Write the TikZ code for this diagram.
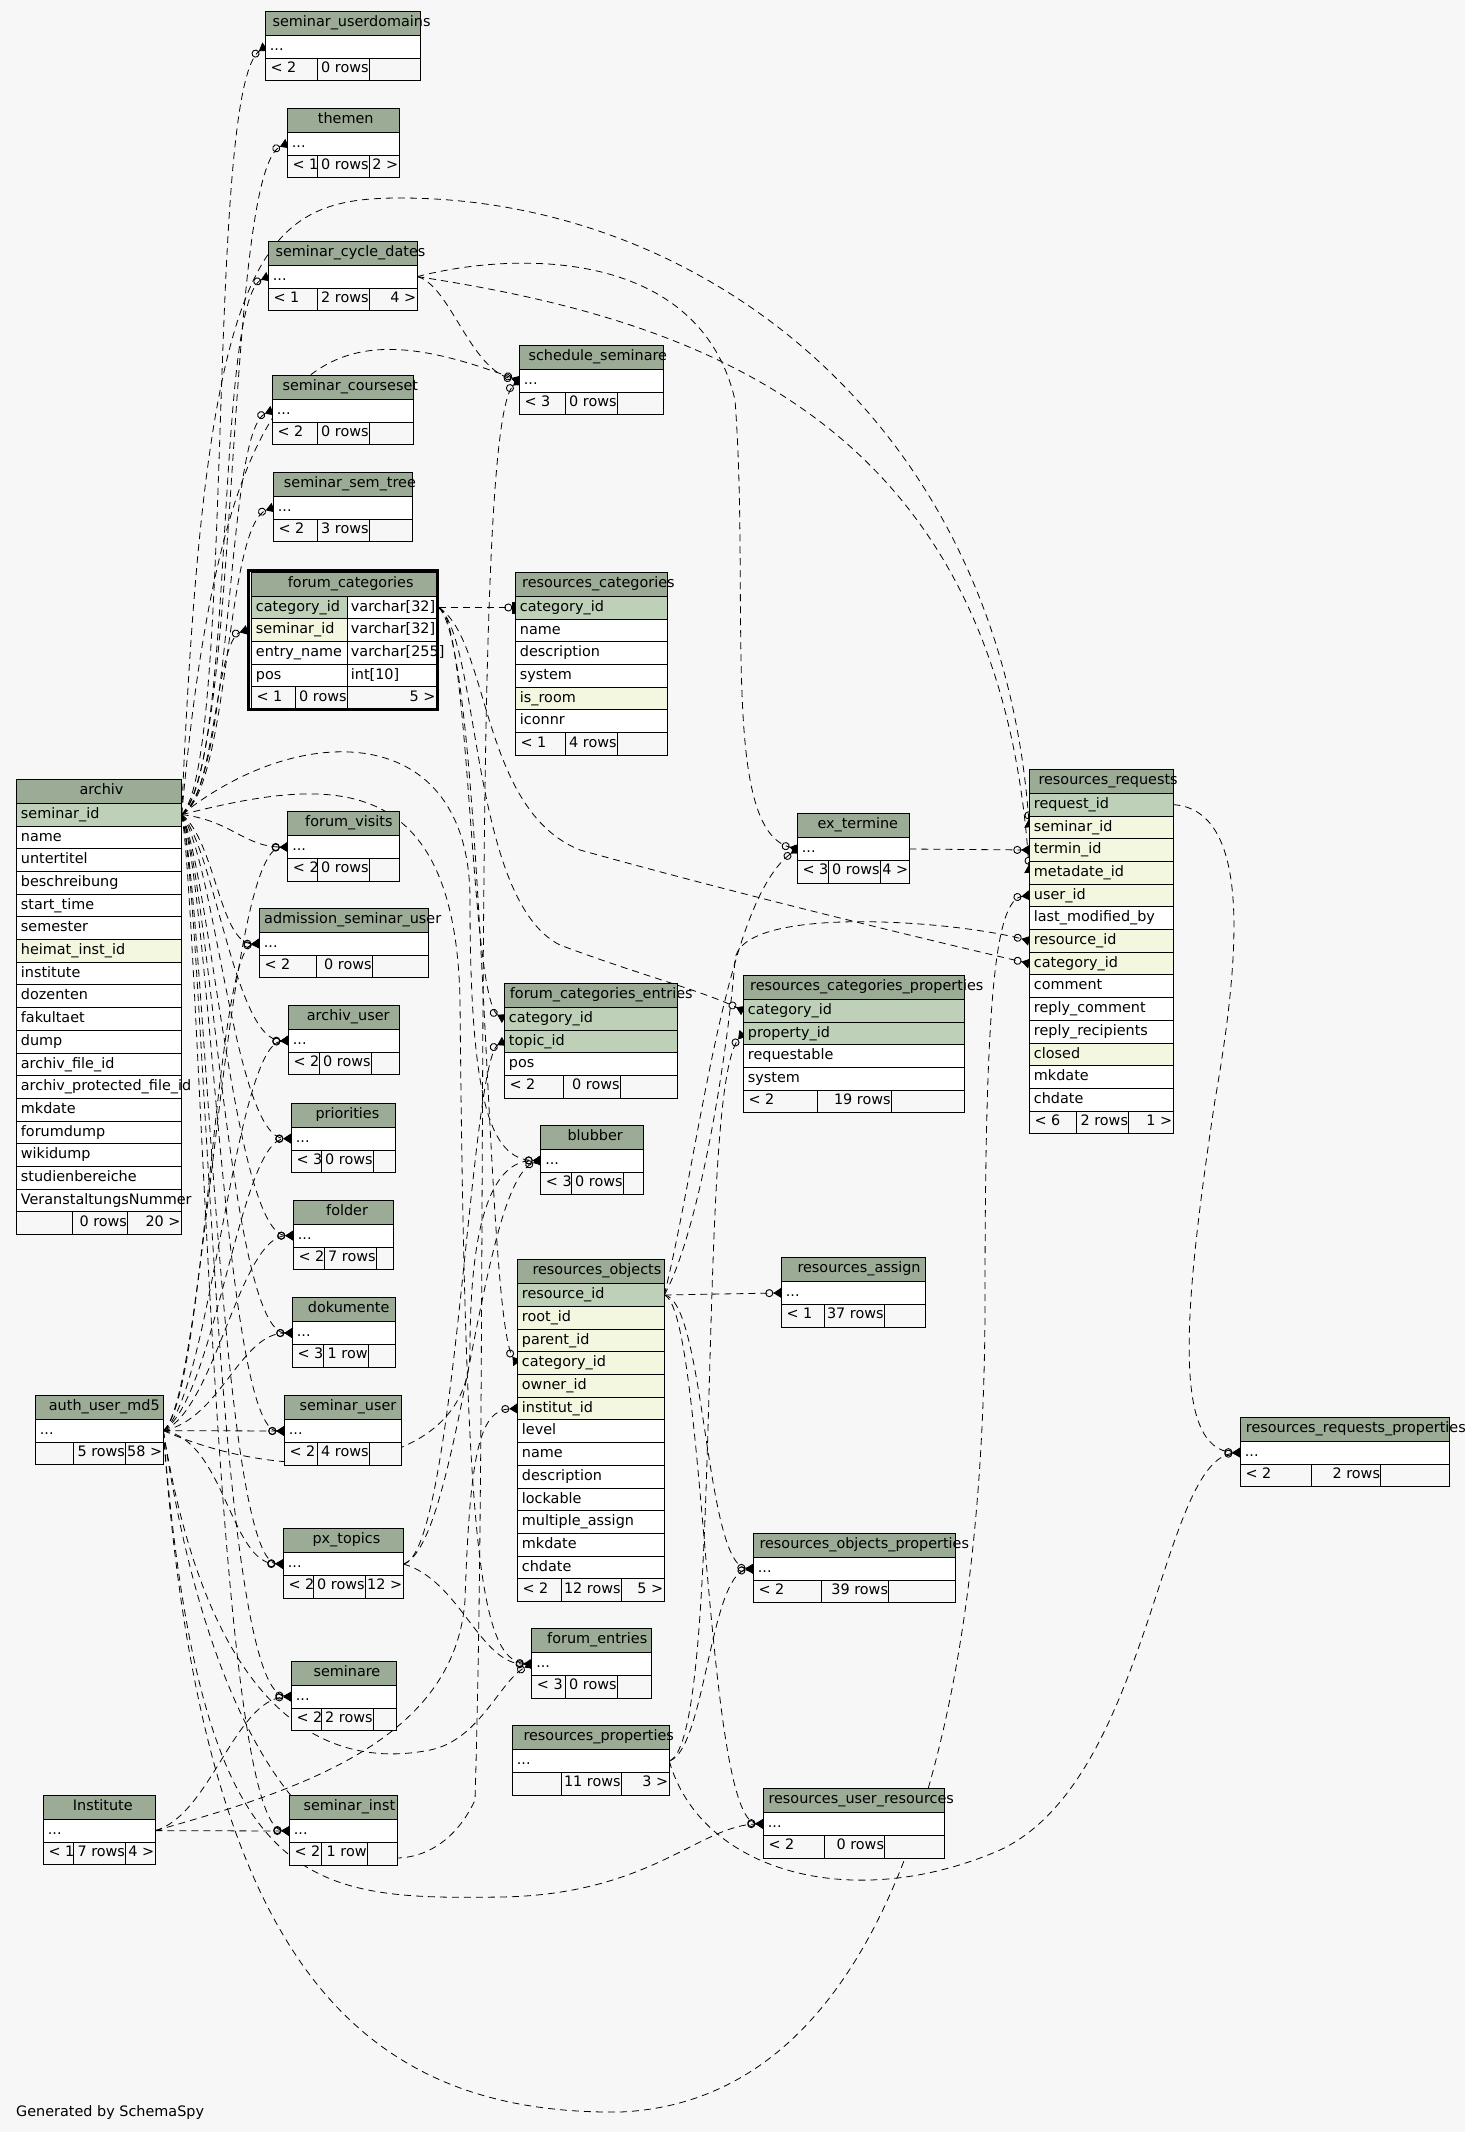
\documentclass[tikz,border=0pt]{standalone}
\usepackage{fontspec}
\setmainfont{DejaVu Sans}
\usetikzlibrary{arrows.meta}
\definecolor{bgc}{HTML}{F7F7F7}
\definecolor{hdrc}{HTML}{9BAB96}
\definecolor{pkc}{HTML}{BED1B8}
\definecolor{fkc}{HTML}{F4F7E0}
\tikzset{
  tb/.style={draw=black,line width=0.9pt},
  txt/.style={anchor=base west,inner sep=0pt,font=\fontsize{14.4}{17}\selectfont,text=black},
  rtxt/.style={anchor=base east,inner sep=0pt,font=\fontsize{14.4}{17}\selectfont,text=black},
  rel/.style={draw=black,line width=0.8pt,dash pattern=on 7pt off 5pt,
    -{Circle[open,length=8pt,width=8pt,line width=0.9pt]Triangle[reversed,length=8pt,width=10pt]}},
  relone/.style={draw=black,line width=0.8pt,dash pattern=on 7pt off 5pt,
    -{Circle[open,length=8pt,width=8pt,line width=0.9pt]Rectangle[length=3pt,width=12pt]}},
}
% header: id, x1, x2, ytop, textx, title
\newcommand\THD[6]{\path[tb,fill=hdrc] (#2,#4) rectangle (#3,#4+24);
  \node[txt] (#1) at (#5,#4+15) {#6};}
% row: id, x1, x2, ytop, fill, text
\newcommand\TRW[6]{\path[tb,fill=#5] (#2,#4) rectangle (#3,#4+22.7);
  \node[txt] (#1) at (#2+4.4,#4+15) {#6};}
% two-column row: id, x1, xm, x2, ytop, fill, text, type
\newcommand\TRWW[8]{\path[tb,fill=#6] (#2,#5) rectangle (#3,#5+22.7);
  \path[tb,fill=white] (#3,#5) rectangle (#4,#5+22.7);
  \node[txt] (#1) at (#2+4.4,#5+15) {#7};
  \node[txt] (#1-t) at (#3+3.4,#5+15) {#8};}
% footer: id, x1, a, b, x2, ytop, t1, t2, t3
\newcommand\TFT[9]{\path[tb,fill=bgc] (#2,#6) rectangle (#5,#6+22.7);
  \draw[tb] (#3,#6) -- (#3,#6+22.7) (#4,#6) -- (#4,#6+22.7);
  \node[txt] (#1-a) at (#2+5,#6+14.5) {#7};
  \node[rtxt] (#1-b) at (#4-0.5,#6+14.5) {#8};
  \node[rtxt] (#1-c) at (#5-1,#6+14.5) {#9};}
\begin{document}
\begin{tikzpicture}[x=1pt,y=-1pt]
\useasboundingbox (0,0) rectangle (1465,2132);
\fill[bgc] (0,0) rectangle (1465,2132);

% ---------------- anchors ----------------
\coordinate (P-archiv) at (181.7,814.6);
\coordinate (P-auth) at (163.3,1430.6);
\coordinate (P-inst) at (155.3,1830.6);
\coordinate (P-fc) at (438.7,607.5);
\coordinate (P-scd) at (417.3,276.6);
\coordinate (P-px) at (403.3,1564.0);
\coordinate (P-ext) at (909.3,849.0);
\coordinate (P-ro) at (664.3,1295.0);
\coordinate (P-rp) at (669.3,1761.0);
\coordinate (P-rr) at (1173.3,804.6);

\coordinate (C-sud) at (265.3,46.6);
\coordinate (C-thm) at (287.3,143.6);
\coordinate (C-scd) at (268.3,276.6);
\coordinate (C-ssch) at (519.3,380.6);
\coordinate (C-scs) at (272.3,410.6);
\coordinate (C-sst) at (273.3,507.6);
\coordinate (C-fc) at (247.3,630.0);
\coordinate (C-rc) at (515.3,607.5);
\coordinate (C-fv) at (287.7,847.0);
\coordinate (C-asu) at (259.3,943.6);
\coordinate (C-au) at (288.3,1040.6);
\coordinate (C-pri) at (291.3,1138.6);
\coordinate (C-fce-cat) at (504.3,1018.6);
\coordinate (C-fce-top) at (504.3,1041.3);
\coordinate (C-blub) at (540.7,1160.6);
\coordinate (C-fol) at (293.3,1235.6);
\coordinate (C-dok) at (292.3,1333.0);
\coordinate (C-su) at (284.3,1431.0);
\coordinate (C-pxt) at (283.3,1564.0);
\coordinate (C-ro-cat) at (517.3,1363.1);
\coordinate (C-ro-inst) at (517.3,1408.5);
\coordinate (C-ext) at (797.3,849.0);
\coordinate (C-rcp-cat) at (743.3,1010.6);
\coordinate (C-rcp-prop) at (743.3,1033.3);
\coordinate (C-rr-sid) at (1029.3,827.3);
\coordinate (C-rr-term) at (1029.3,850.0);
\coordinate (C-rr-meta) at (1029.3,872.7);
\coordinate (C-rr-user) at (1029.3,895.4);
\coordinate (C-rr-res) at (1029.3,940.8);
\coordinate (C-rr-cat) at (1029.3,963.5);
\coordinate (C-ra) at (781.3,1292.9);
\coordinate (C-rop) at (753.3,1568.8);
\coordinate (C-rur) at (763.3,1823.9);
\coordinate (C-fe) at (531.7,1664.0);
\coordinate (C-sem) at (291.3,1696.6);
\coordinate (C-sinst) at (289.3,1831.0);
\coordinate (C-rrp) at (1240.3,1452.6);

% ---------------- connectors ----------------
% archiv.seminar_id
\draw[rel] (P-archiv) .. controls (235,760) and (205,90) .. (C-sud);
\draw[rel] (P-archiv) .. controls (240,760) and (225,170) .. (C-thm);
\draw[rel] (P-archiv) .. controls (235,770) and (215,300) .. (C-scd);
\draw[rel] (P-archiv) .. controls (235,780) and (225,430) .. (C-scs);
\draw[rel] (P-archiv) .. controls (230,790) and (225,525) .. (C-sst);
\draw[rel] (P-archiv) .. controls (215,800) and (215,640) .. (C-fc);
\draw[rel] (P-archiv) .. controls (225,330) and (330,310) .. (C-ssch);
\draw[rel] (P-archiv) .. controls (205,250) and (260,198) .. (400,198) .. controls (700,198) and (1000,420) .. (C-rr-sid);
\draw[rel] (P-archiv) .. controls (230,820) and (245,847) .. (C-fv);
\draw[rel] (P-archiv) .. controls (215,840) and (220,944) .. (C-asu);
\draw[rel] (P-archiv) .. controls (215,850) and (235,1041) .. (C-au);
\draw[rel] (P-archiv) .. controls (215,860) and (235,1138) .. (C-pri);
\draw[rel] (P-archiv) .. controls (210,870) and (235,1236) .. (C-fol);
\draw[rel] (P-archiv) .. controls (210,880) and (230,1333) .. (C-dok);
\draw[rel] (P-archiv) .. controls (210,890) and (225,1431) .. (C-su);
\draw[rel] (P-archiv) .. controls (205,900) and (220,1560) .. (C-pxt);
\draw[rel] (P-archiv) .. controls (205,910) and (215,1690) .. (C-sem);
\draw[rel] (P-archiv) .. controls (200,920) and (215,1825) .. (C-sinst);
\draw[rel] (P-archiv) .. controls (300,720) and (470,720) .. (470,900) .. controls (470,1100) and (490,1160) .. (C-blub);
\draw[rel] (P-archiv) .. controls (320,780) and (455,760) .. (460,1000) .. controls (465,1550) and (480,1660) .. (C-fe);
% auth_user_md5
\draw[rel] (P-auth) -- (C-su);
\draw[rel] (P-auth) .. controls (225,1440) and (230,1564) .. (C-pxt);
\draw[rel] (P-auth) .. controls (205,1400) and (225,850) .. (C-fv);
\draw[rel] (P-auth) .. controls (205,1400) and (215,950) .. (C-asu);
\draw[rel] (P-auth) .. controls (210,1400) and (235,1045) .. (C-au);
\draw[rel] (P-auth) .. controls (215,1400) and (240,1140) .. (C-pri);
\draw[rel] (P-auth) .. controls (215,1410) and (240,1236) .. (C-fol);
\draw[rel] (P-auth) .. controls (220,1420) and (240,1333) .. (C-dok);
\draw[rel] (P-auth) .. controls (300,1490) and (470,1470) .. (470,1350) .. controls (470,1200) and (500,1160) .. (C-blub);
\draw[rel] (P-auth) .. controls (230,1880) and (420,1920) .. (475,1800) .. controls (490,1300) and (470,420) .. (C-ssch);
\draw[rel] (P-auth) .. controls (210,1720) and (330,1770) .. (430,1750) .. controls (480,1740) and (500,1680) .. (C-fe);
\draw[rel] (P-auth) .. controls (200,1890) and (300,1900) .. (500,1897) .. controls (650,1895) and (700,1825) .. (C-rur);
\draw[rel] (P-auth) .. controls (200,1950) and (350,2115) .. (620,2112) .. controls (900,2100) and (985,1700) .. (985,1300) .. controls (985,1000) and (995,900) .. (C-rr-user);
% Institute
\draw[rel] (P-inst) -- (C-sinst);
\draw[rel] (P-inst) .. controls (210,1815) and (235,1700) .. (C-sem);
\draw[rel] (P-inst) .. controls (300,1790) and (455,1740) .. (465,1600) .. controls (470,1450) and (480,1410) .. (C-ro-inst);
% forum_categories.category_id
\draw[relone] (P-fc) -- (C-rc);
\draw[rel] (P-fc) .. controls (470,615) and (470,1000) .. (C-fce-cat);
\draw[rel] (P-fc) .. controls (480,640) and (470,900) .. (560,945) .. controls (640,975) and (700,990) .. (C-rcp-cat);
\draw[rel] (P-fc) .. controls (485,650) and (485,1320) .. (C-ro-cat);
\draw[rel] (P-fc) .. controls (490,640) and (480,810) .. (580,850) .. controls (760,900) and (950,945) .. (C-rr-cat);
% seminar_cycle_dates
\draw[rel] (P-scd) .. controls (450,285) and (470,370) .. (C-ssch);
\draw[rel] (P-scd) .. controls (520,250) and (700,250) .. (735,400) .. controls (750,600) and (720,830) .. (C-ext);
\draw[rel] (P-scd) .. controls (700,320) and (1000,420) .. (C-rr-meta);
% ex_termine
\draw[rel] (P-ext) -- (C-rr-term);
% px_topics
\draw[rel] (P-px) .. controls (455,1555) and (470,1060) .. (C-fce-top);
\draw[rel] (P-px) .. controls (460,1545) and (480,1180) .. (C-blub);
\draw[rel] (P-px) .. controls (460,1580) and (480,1665) .. (C-fe);
% resources_objects
\draw[rel] (P-ro) -- (C-ra);
\draw[rel] (P-ro) .. controls (705,1300) and (705,1565) .. (C-rop);
\draw[rel] (P-ro) .. controls (705,1310) and (705,1820) .. (C-rur);
\draw[rel] (P-ro) .. controls (700,1230) and (728,1050) .. (735,960) .. controls (740,905) and (950,920) .. (C-rr-res);
\draw[rel] (P-ro) .. controls (700,1150) and (725,900) .. (C-ext);
% resources_properties
\draw[rel] (P-rp) .. controls (725,1740) and (695,1090) .. (C-rcp-prop);
\draw[rel] (P-rp) .. controls (705,1750) and (710,1575) .. (C-rop);
\draw[rel] (P-rp) .. controls (700,1870) and (850,1915) .. (1000,1850) .. controls (1150,1780) and (1160,1460) .. (C-rrp);
% resources_requests
\draw[rel] (P-rr) .. controls (1245,810) and (1245,930) .. (1215,1100) .. controls (1185,1300) and (1170,1450) .. (C-rrp);

% ---------------- tables ----------------
% seminar_userdomains
\THD{sud}{265.3}{420.3}{11.3}{272.3}{seminar\_userdomains}
\TRW{sud-r}{265.3}{420.3}{35.3}{white}{...}
\TFT{sud-f}{265.3}{317.3}{369.3}{420.3}{58.0}{< 2}{0 rows}{}
% themen
\THD{thm}{287.3}{399.3}{108.3}{317.7}{themen}
\TRW{thm-r}{287.3}{399.3}{132.3}{white}{...}
\TFT{thm-f}{287.3}{317.3}{369.3}{399.3}{155.0}{< 1}{0 rows}{2 >}
% seminar_cycle_dates
\THD{scd}{268.3}{417.3}{241.3}{275.3}{seminar\_cycle\_dates}
\TRW{scd-r}{268.3}{417.3}{265.3}{white}{...}
\TFT{scd-f}{268.3}{317.3}{369.3}{417.3}{288.0}{< 1}{2 rows}{4 >}
% schedule_seminare
\THD{ssch}{519.3}{663.3}{345.3}{528.3}{schedule\_seminare}
\TRW{ssch-r}{519.3}{663.3}{369.3}{white}{...}
\TFT{ssch-f}{519.3}{565.3}{617.3}{663.3}{392.0}{< 3}{0 rows}{}
% seminar_courseset
\THD{scs}{272.3}{413.3}{375.3}{282.3}{seminar\_courseset}
\TRW{scs-r}{272.3}{413.3}{399.3}{white}{...}
\TFT{scs-f}{272.3}{317.3}{369.3}{413.3}{422.0}{< 2}{0 rows}{}
% seminar_sem_tree
\THD{sst}{273.3}{412.3}{472.3}{283.7}{seminar\_sem\_tree}
\TRW{sst-r}{273.3}{412.3}{496.3}{white}{...}
\TFT{sst-f}{273.3}{317.3}{369.3}{412.3}{519.0}{< 2}{3 rows}{}
% forum_categories
\THD{fc}{251.3}{436.7}{572.0}{287.7}{forum\_categories}
\TRWW{fc-r1}{251.3}{347.3}{436.7}{596.0}{pkc}{category\_id}{varchar[32]}
\TRWW{fc-r2}{251.3}{347.3}{436.7}{618.7}{fkc}{seminar\_id}{varchar[32]}
\TRWW{fc-r3}{251.3}{347.3}{436.7}{641.4}{white}{entry\_name}{varchar[255]}
\TRWW{fc-r4}{251.3}{347.3}{436.7}{664.1}{white}{pos}{int[10]}
\TFT{fc-f}{251.3}{295.3}{347.3}{436.7}{686.8}{< 1}{0 rows}{5 >}
\draw[line width=2.7pt] (248.65,570.65) rectangle (437.35,709.65);
% resources_categories
\THD{rc}{515.3}{667.3}{572.3}{522.0}{resources\_categories}
\TRW{rc-r1}{515.3}{667.3}{596.3}{pkc}{category\_id}
\TRW{rc-r2}{515.3}{667.3}{619.0}{white}{name}
\TRW{rc-r3}{515.3}{667.3}{641.7}{white}{description}
\TRW{rc-r4}{515.3}{667.3}{664.4}{white}{system}
\TRW{rc-r5}{515.3}{667.3}{687.1}{fkc}{is\_room}
\TRW{rc-r6}{515.3}{667.3}{709.8}{white}{iconnr}
\TFT{rc-f}{515.3}{565.3}{617.3}{667.3}{732.5}{< 1}{4 rows}{}
% archiv
\THD{archiv}{16.3}{181.7}{779.3}{79.3}{archiv}
\TRW{ar-r1}{16.3}{181.7}{803.3}{pkc}{seminar\_id}
\TRW{ar-r2}{16.3}{181.7}{826.0}{white}{name}
\TRW{ar-r3}{16.3}{181.7}{848.7}{white}{untertitel}
\TRW{ar-r4}{16.3}{181.7}{871.4}{white}{beschreibung}
\TRW{ar-r5}{16.3}{181.7}{894.1}{white}{start\_time}
\TRW{ar-r6}{16.3}{181.7}{916.8}{white}{semester}
\TRW{ar-r7}{16.3}{181.7}{939.5}{fkc}{heimat\_inst\_id}
\TRW{ar-r8}{16.3}{181.7}{962.2}{white}{institute}
\TRW{ar-r9}{16.3}{181.7}{984.9}{white}{dozenten}
\TRW{ar-r10}{16.3}{181.7}{1007.6}{white}{fakultaet}
\TRW{ar-r11}{16.3}{181.7}{1030.3}{white}{dump}
\TRW{ar-r12}{16.3}{181.7}{1053.0}{white}{archiv\_file\_id}
\TRW{ar-r13}{16.3}{181.7}{1075.7}{white}{archiv\_protected\_file\_id}
\TRW{ar-r14}{16.3}{181.7}{1098.4}{white}{mkdate}
\TRW{ar-r15}{16.3}{181.7}{1121.1}{white}{forumdump}
\TRW{ar-r16}{16.3}{181.7}{1143.8}{white}{wikidump}
\TRW{ar-r17}{16.3}{181.7}{1166.5}{white}{studienbereiche}
\TRW{ar-r18}{16.3}{181.7}{1189.2}{white}{VeranstaltungsNummer}
\TFT{ar-f}{16.3}{72.3}{127.7}{181.7}{1211.9}{}{0 rows}{20 >}
% forum_visits
\THD{fv}{287.7}{399.3}{811.7}{305.0}{forum\_visits}
\TRW{fv-r}{287.7}{399.3}{835.7}{white}{...}
\TFT{fv-f}{287.7}{317.3}{369.3}{399.3}{858.4}{< 2}{0 rows}{}
% admission_seminar_user
\THD{asu}{259.3}{428.3}{908.3}{264.0}{admission\_seminar\_user}
\TRW{asu-r}{259.3}{428.3}{932.3}{white}{...}
\TFT{asu-f}{259.3}{316.3}{372.3}{428.3}{955.0}{< 2}{0 rows}{}
% archiv_user
\THD{au}{288.3}{399.3}{1005.3}{306.7}{archiv\_user}
\TRW{au-r}{288.3}{399.3}{1029.3}{white}{...}
\TFT{au-f}{288.3}{319.3}{371.3}{399.3}{1052.0}{< 2}{0 rows}{}
% priorities
\THD{pri}{291.3}{395.3}{1103.3}{315.3}{priorities}
\TRW{pri-r}{291.3}{395.3}{1127.3}{white}{...}
\TFT{pri-f}{291.3}{321.3}{373.3}{395.3}{1150.0}{< 3}{0 rows}{}
% forum_categories_entries
\THD{fce}{504.3}{677.3}{983.3}{509.7}{forum\_categories\_entries}
\TRW{fce-r1}{504.3}{677.3}{1007.3}{pkc}{category\_id}
\TRW{fce-r2}{504.3}{677.3}{1030.0}{pkc}{topic\_id}
\TRW{fce-r3}{504.3}{677.3}{1052.7}{white}{pos}
\TFT{fce-f}{504.3}{563.3}{620.3}{677.3}{1075.4}{< 2}{0 rows}{}
% blubber
\THD{blub}{540.7}{643.3}{1125.3}{567.3}{blubber}
\TRW{blub-r}{540.7}{643.3}{1149.3}{white}{...}
\TFT{blub-f}{540.7}{571.3}{623.3}{643.3}{1172.0}{< 3}{0 rows}{}
% folder
\THD{fol}{293.3}{393.3}{1200.3}{326.0}{folder}
\TRW{fol-r}{293.3}{393.3}{1224.3}{white}{...}
\TFT{fol-f}{293.3}{324.7}{376.3}{393.3}{1247.0}{< 2}{7 rows}{}
% dokumente
\THD{dok}{292.3}{395.3}{1297.7}{307.7}{dokumente}
\TRW{dok-r}{292.3}{395.3}{1321.7}{white}{...}
\TFT{dok-f}{292.3}{323.7}{368.3}{395.3}{1344.4}{< 3}{1 row}{}
% seminar_user
\THD{su}{284.3}{401.3}{1395.7}{299.3}{seminar\_user}
\TRW{su-r}{284.3}{401.3}{1419.7}{white}{...}
\TFT{su-f}{284.3}{317.3}{369.3}{401.3}{1442.4}{< 2}{4 rows}{}
% px_topics
\THD{pxt}{283.3}{403.3}{1528.7}{312.3}{px\_topics}
\TRW{pxt-r}{283.3}{403.3}{1552.7}{white}{...}
\TFT{pxt-f}{283.3}{313.3}{365.3}{403.3}{1575.4}{< 2}{0 rows}{12 >}
% resources_objects
\THD{ro}{517.3}{664.3}{1259.7}{532.3}{resources\_objects}
\TRW{ro-r1}{517.3}{664.3}{1283.7}{pkc}{resource\_id}
\TRW{ro-r2}{517.3}{664.3}{1306.4}{fkc}{root\_id}
\TRW{ro-r3}{517.3}{664.3}{1329.1}{fkc}{parent\_id}
\TRW{ro-r4}{517.3}{664.3}{1351.8}{fkc}{category\_id}
\TRW{ro-r5}{517.3}{664.3}{1374.5}{fkc}{owner\_id}
\TRW{ro-r6}{517.3}{664.3}{1397.2}{fkc}{institut\_id}
\TRW{ro-r7}{517.3}{664.3}{1419.9}{white}{level}
\TRW{ro-r8}{517.3}{664.3}{1442.6}{white}{name}
\TRW{ro-r9}{517.3}{664.3}{1465.3}{white}{description}
\TRW{ro-r10}{517.3}{664.3}{1488.0}{white}{lockable}
\TRW{ro-r11}{517.3}{664.3}{1510.7}{white}{multiple\_assign}
\TRW{ro-r12}{517.3}{664.3}{1533.4}{white}{mkdate}
\TRW{ro-r13}{517.3}{664.3}{1556.1}{white}{chdate}
\TFT{ro-f}{517.3}{561.3}{621.3}{664.3}{1578.8}{< 2}{12 rows}{5 >}
% ex_termine
\THD{ext}{797.3}{909.3}{813.7}{817.3}{ex\_termine}
\TRW{ext-r}{797.3}{909.3}{837.7}{white}{...}
\TFT{ext-f}{797.3}{828.3}{880.3}{909.3}{860.4}{< 3}{0 rows}{4 >}
% resources_categories_properties
\THD{rcp}{743.3}{964.3}{975.3}{750.0}{resources\_categories\_properties}
\TRW{rcp-r1}{743.3}{964.3}{999.3}{pkc}{category\_id}
\TRW{rcp-r2}{743.3}{964.3}{1022.0}{pkc}{property\_id}
\TRW{rcp-r3}{743.3}{964.3}{1044.7}{white}{requestable}
\TRW{rcp-r4}{743.3}{964.3}{1067.4}{white}{system}
\TFT{rcp-f}{743.3}{817.3}{891.3}{964.3}{1090.1}{< 2}{19 rows}{}
% resources_requests
\THD{rr}{1029.3}{1173.3}{769.3}{1038.3}{resources\_requests}
\TRW{rr-r1}{1029.3}{1173.3}{793.3}{pkc}{request\_id}
\TRW{rr-r2}{1029.3}{1173.3}{816.0}{fkc}{seminar\_id}
\TRW{rr-r3}{1029.3}{1173.3}{838.7}{fkc}{termin\_id}
\TRW{rr-r4}{1029.3}{1173.3}{861.4}{fkc}{metadate\_id}
\TRW{rr-r5}{1029.3}{1173.3}{884.1}{fkc}{user\_id}
\TRW{rr-r6}{1029.3}{1173.3}{906.8}{white}{last\_modified\_by}
\TRW{rr-r7}{1029.3}{1173.3}{929.5}{fkc}{resource\_id}
\TRW{rr-r8}{1029.3}{1173.3}{952.2}{fkc}{category\_id}
\TRW{rr-r9}{1029.3}{1173.3}{974.9}{white}{comment}
\TRW{rr-r10}{1029.3}{1173.3}{997.6}{white}{reply\_comment}
\TRW{rr-r11}{1029.3}{1173.3}{1020.3}{white}{reply\_recipients}
\TRW{rr-r12}{1029.3}{1173.3}{1043.0}{fkc}{closed}
\TRW{rr-r13}{1029.3}{1173.3}{1065.7}{white}{mkdate}
\TRW{rr-r14}{1029.3}{1173.3}{1088.4}{white}{chdate}
\TFT{rr-f}{1029.3}{1076.0}{1128.7}{1173.3}{1111.1}{< 6}{2 rows}{1 >}
% resources_assign
\THD{ra}{781.3}{925.3}{1257.6}{797.3}{resources\_assign}
\TRW{ra-r}{781.3}{925.3}{1281.6}{white}{...}
\TFT{ra-f}{781.3}{824.3}{884.3}{925.3}{1304.3}{< 1}{37 rows}{}
% resources_objects_properties
\THD{rop}{753.3}{955.3}{1533.5}{759.3}{resources\_objects\_properties}
\TRW{rop-r}{753.3}{955.3}{1557.5}{white}{...}
\TFT{rop-f}{753.3}{821.7}{888.7}{955.3}{1580.2}{< 2}{39 rows}{}
% resources_user_resources
\THD{rur}{763.3}{944.3}{1788.6}{768.3}{resources\_user\_resources}
\TRW{rur-r}{763.3}{944.3}{1812.6}{white}{...}
\TFT{rur-f}{763.3}{824.7}{884.7}{944.3}{1835.3}{< 2}{0 rows}{}
% forum_entries
\THD{fe}{531.7}{651.3}{1628.7}{547.0}{forum\_entries}
\TRW{fe-r}{531.7}{651.3}{1652.7}{white}{...}
\TFT{fe-f}{531.7}{565.3}{617.3}{651.3}{1675.4}{< 3}{0 rows}{}
% resources_properties
\THD{rp}{512.3}{669.3}{1725.7}{523.3}{resources\_properties}
\TRW{rp-r}{512.3}{669.3}{1749.7}{white}{...}
\TFT{rp-f}{512.3}{561.3}{621.3}{669.3}{1772.4}{}{11 rows}{3 >}
% seminare
\THD{sem}{291.3}{396.3}{1661.3}{313.3}{seminare}
\TRW{sem-r}{291.3}{396.3}{1685.3}{white}{...}
\TFT{sem-f}{291.3}{321.3}{373.3}{396.3}{1708.0}{< 2}{2 rows}{}
% seminar_inst
\THD{sinst}{289.3}{397.3}{1795.7}{303.3}{seminar\_inst}
\TRW{sinst-r}{289.3}{397.3}{1819.7}{white}{...}
\TFT{sinst-f}{289.3}{321.3}{367.3}{397.3}{1842.4}{< 2}{1 row}{}
% auth_user_md5
\THD{auth}{35.3}{163.3}{1395.3}{48.7}{auth\_user\_md5}
\TRW{auth-r}{35.3}{163.3}{1419.3}{white}{...}
\TFT{auth-f}{35.3}{73.3}{125.7}{163.3}{1442.0}{}{5 rows}{58 >}
% Institute
\THD{inst}{43.3}{155.3}{1795.3}{72.7}{Institute}
\TRW{inst-r}{43.3}{155.3}{1819.3}{white}{...}
\TFT{inst-f}{43.3}{73.3}{125.7}{155.3}{1842.0}{< 1}{7 rows}{4 >}
% resources_requests_properties
\THD{rrp}{1240.3}{1449.3}{1417.3}{1245.7}{resources\_requests\_properties}
\TRW{rrp-r}{1240.3}{1449.3}{1441.3}{white}{...}
\TFT{rrp-f}{1240.3}{1311.3}{1380.7}{1449.3}{1464.0}{< 2}{2 rows}{}

\node[txt] (gen) at (16,2116) {Generated by SchemaSpy};
\end{tikzpicture}
\end{document}
